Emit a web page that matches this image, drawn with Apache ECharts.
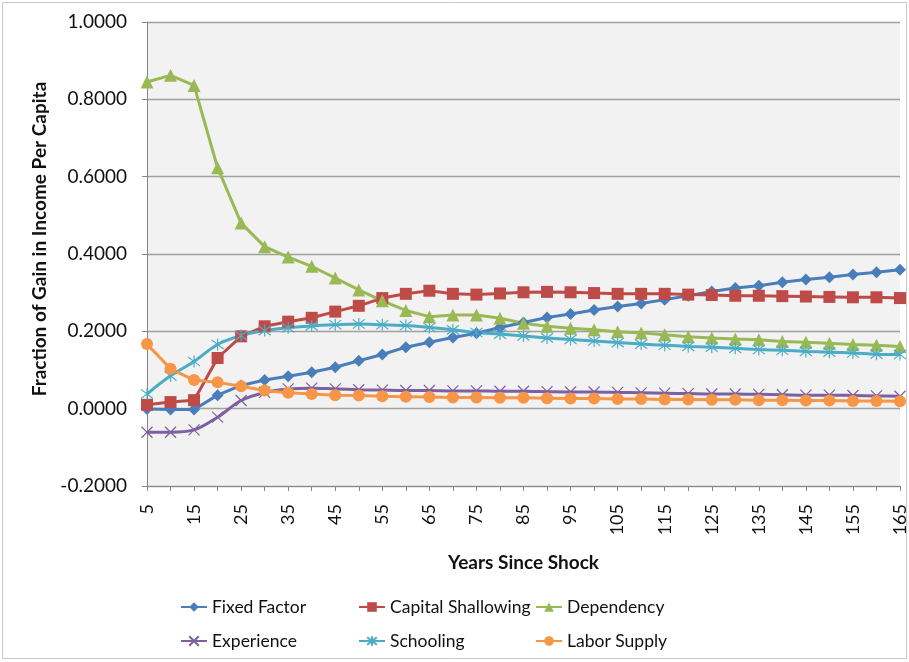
<!DOCTYPE html>
<html>
<head>
<meta charset="utf-8">
<script src="https://cdn.jsdelivr.net/npm/echarts@6/dist/echarts.min.js"></script>
<style>html,body{margin:0;padding:0;background:#fff}#c{width:909px;height:662px}</style>
</head>
<body>
<div id="c"></div>
<script>
const years = [5,10,15,20,25,30,35,40,45,50,55,60,65,70,75,80,85,90,95,100,105,110,115,120,125,130,135,140,145,150,155,160,165];
const fixedFactor = [-0.001,-0.002,-0.002,0.035,0.060,0.074,0.084,0.094,0.107,0.124,0.140,0.159,0.172,0.184,0.195,0.210,0.223,0.236,0.245,0.255,0.264,0.272,0.282,0.292,0.303,0.312,0.318,0.327,0.334,0.340,0.347,0.353,0.359];
const capitalShallowing = [0.010,0.017,0.022,0.131,0.187,0.213,0.225,0.235,0.251,0.266,0.286,0.297,0.305,0.297,0.295,0.298,0.301,0.302,0.301,0.299,0.297,0.297,0.297,0.295,0.294,0.292,0.292,0.291,0.290,0.289,0.288,0.288,0.286];
const dependency = [0.845,0.862,0.836,0.623,0.480,0.419,0.392,0.368,0.338,0.307,0.279,0.254,0.238,0.242,0.242,0.234,0.221,0.213,0.208,0.204,0.199,0.196,0.191,0.186,0.183,0.180,0.178,0.174,0.172,0.169,0.166,0.164,0.161];
const experience = [-0.061,-0.061,-0.055,-0.022,0.021,0.042,0.051,0.053,0.051,0.049,0.048,0.047,0.047,0.046,0.046,0.045,0.045,0.044,0.043,0.043,0.042,0.041,0.040,0.039,0.038,0.038,0.037,0.036,0.035,0.035,0.034,0.033,0.032];
const schooling = [0.038,0.085,0.122,0.166,0.189,0.202,0.209,0.214,0.217,0.219,0.217,0.215,0.210,0.204,0.197,0.193,0.188,0.183,0.179,0.175,0.171,0.167,0.164,0.161,0.159,0.156,0.153,0.151,0.148,0.146,0.144,0.141,0.140];
const laborSupply = [0.167,0.103,0.074,0.068,0.058,0.047,0.041,0.038,0.035,0.034,0.032,0.031,0.030,0.029,0.029,0.028,0.028,0.027,0.026,0.026,0.025,0.025,0.024,0.024,0.023,0.023,0.022,0.022,0.021,0.021,0.020,0.020,0.019];
const yTicks = {min:-0.2, max:1.0, step:0.2};
const yTitle = 'Fraction of Gain in Income Per Capita';
const xTitle = 'Years Since Shock';

const FONT = 'Lato, "Open Sans", sans-serif';
const seriesDefs = [
  {name:'Fixed Factor', data:fixedFactor, color:'#4A7EBB', symbol:'diamond', size:12, smooth:false},
  {name:'Capital Shallowing', data:capitalShallowing, color:'#BE4B48', symbol:'rect', size:12, smooth:false},
  {name:'Dependency', data:dependency, color:'#98B954', symbol:'triangle', size:13, smooth:false},
  {name:'Experience', data:experience, color:'#7D60A0', symbol:'path://M0,0L10,10M10,0L0,10', size:11, stroke:true, smooth:0.35},
  {name:'Schooling', data:schooling, color:'#4BACC6', symbol:'path://M0,0L10,10M10,0L0,10M5,-1.5L5,11.5', size:12, stroke:true, smooth:0.35},
  {name:'Labor Supply', data:laborSupply, color:'#F79646', symbol:'circle', size:12, smooth:false}
];

const series = seriesDefs.map(d => ({
  name:d.name, type:'line', data:d.data, smooth:d.smooth,
  symbol:d.symbol, symbolSize:d.size,
  lineStyle:{color:d.color, width:3},
  itemStyle: d.stroke ? {color:'rgba(0,0,0,0)', borderColor:d.color, borderWidth:1.2} : {color:d.color},
  emphasis:{disabled:true},
  z: 2
}));

const legendPos = [[180,598],[358,598],[535,598],[180,632],[358,632],[535,632]];
const legends = seriesDefs.map((d,i) => ({
  data:[d.name], left:legendPos[i][0], top:legendPos[i][1], padding:0,
  itemWidth:26, itemHeight:12, itemGap:2,
  textStyle:{fontFamily:FONT, fontSize:17.5, color:'#111'}
}));

const chart = echarts.init(document.getElementById('c'), null, {renderer:'canvas'});
chart.setOption({
  animation:false,
  backgroundColor:'#fff',
  grid:{left:147, top:22, right:4, bottom:176, show:true, backgroundColor:'#F2F2F2', borderWidth:0},
  legend:legends,
  xAxis:{
    type:'category', data:years, boundaryGap:false,
    name:xTitle, nameLocation:'middle', nameGap:67,
    nameTextStyle:{fontFamily:FONT, fontSize:19, fontWeight:'bold', color:'#111'},
    axisLine:{onZero:false, lineStyle:{color:'#868686', width:1}},
    axisTick:{interval:0, length:5, lineStyle:{color:'#868686'}},
    axisLabel:{interval:1, rotate:90, fontFamily:FONT, fontSize:18, color:'#111', margin:18},
    splitLine:{show:false}
  },
  yAxis:{
    type:'value', min:yTicks.min, max:yTicks.max, interval:yTicks.step,
    axisLine:{show:true, lineStyle:{color:'#868686', width:1}},
    axisTick:{show:true, length:5, lineStyle:{color:'#868686'}},
    axisLabel:{fontFamily:FONT, fontSize:19, color:'#111', margin:20, formatter:v => v.toFixed(4)},
    splitLine:{lineStyle:{color:'#A0A0A0', width:1.3}}
  },
  graphic:[
    {type:'rect', shape:{x:2.5, y:2.5, width:904, height:656}, style:{fill:'none', stroke:'#C8C8C8', lineWidth:1}, silent:true, z:-1},
    {type:'text', x:40, y:239, rotation:Math.PI/2, style:{text:yTitle, fontFamily:FONT, fontSize:19, fontWeight:'bold', fill:'#111', textAlign:'center', textVerticalAlign:'middle'}, silent:true}
  ],
  series:series
});
</script>
</body>
</html>
